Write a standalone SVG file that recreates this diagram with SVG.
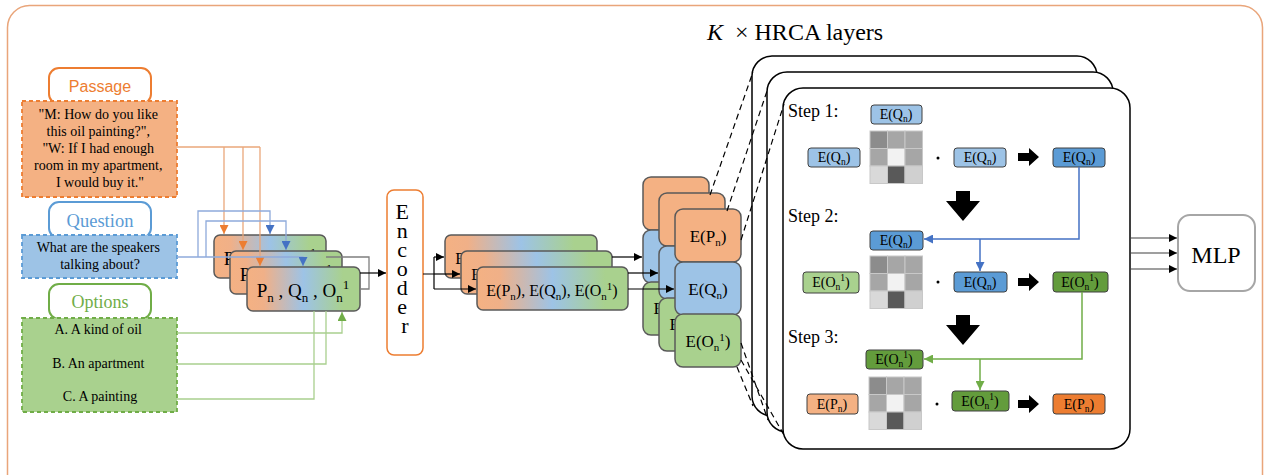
<svg xmlns="http://www.w3.org/2000/svg" width="1268" height="475" viewBox="0 0 1268 475">
<defs>
<style>
.serif{font-family:"Liberation Serif","Times New Roman",serif;fill:#000}
.sans{font-family:"Liberation Sans",Arial,sans-serif}
.tile{stroke:#595959;stroke-width:1.5}
.card{fill:url(#grad);stroke:#595959;stroke-width:1.5}
.sbox{stroke:#404040;stroke-width:1}
.frame{fill:#fff;stroke:#000;stroke-width:1.5}
.dash{fill:none;stroke:#000;stroke-width:1.2;stroke-dasharray:6 4}
.lor{fill:none;stroke:#eaa77a;stroke-width:1.3}
.lbl{fill:none;stroke:#8eaadb;stroke-width:1.3}
.lgr{fill:none;stroke:#a9cf8e;stroke-width:1.3}
.lgy{fill:none;stroke:#7f7f7f;stroke-width:1.3}
.lbk{fill:none;stroke:#000;stroke-width:1.2}
.cell{stroke:#c8c8c8;stroke-width:1}
.or{fill:#f4b183}.bl{fill:#9dc3e6}.gr{fill:#a9d18e}
.dbl{fill:#5b9bd5}.dgr{fill:#639c3c}.dor{fill:#ed7d31}
</style>
<linearGradient id="grad" x1="0" y1="0" x2="1" y2="0">
<stop offset="0" stop-color="#f4b183"/>
<stop offset="0.15" stop-color="#f0b088"/>
<stop offset="0.5" stop-color="#9dc3e6"/>
<stop offset="0.85" stop-color="#a9d18e"/>
<stop offset="1" stop-color="#a9d18e"/>
</linearGradient>
<marker id="mOr" viewBox="0 0 10 10" refX="10" refY="5" markerWidth="9" markerHeight="9" markerUnits="userSpaceOnUse" orient="auto"><path d="M0,0L10,5L0,10z" fill="#ed7d31"/></marker>
<marker id="mBl" viewBox="0 0 10 10" refX="10" refY="5" markerWidth="9" markerHeight="9" markerUnits="userSpaceOnUse" orient="auto"><path d="M0,0L10,5L0,10z" fill="#4472c4"/></marker>
<marker id="mGr" viewBox="0 0 10 10" refX="10" refY="5" markerWidth="9" markerHeight="9" markerUnits="userSpaceOnUse" orient="auto"><path d="M0,0L10,5L0,10z" fill="#70ad47"/></marker>
<marker id="mBk" viewBox="0 0 10 10" refX="10" refY="5" markerWidth="9" markerHeight="8" markerUnits="userSpaceOnUse" orient="auto"><path d="M0,0L10,5L0,10z" fill="#000"/></marker>
<g id="matrix">
<rect class="cell" x="0" y="0" width="17.5" height="17.5" fill="#8c8c8c"/>
<rect class="cell" x="17.5" y="0" width="17.5" height="17.5" fill="#a6a6a6"/>
<rect class="cell" x="35" y="0" width="17.5" height="17.5" fill="#a6a6a6"/>
<rect class="cell" x="0" y="17.5" width="17.5" height="17.5" fill="#a6a6a6"/>
<rect class="cell" x="17.5" y="17.5" width="17.5" height="17.5" fill="#f2f2f2"/>
<rect class="cell" x="35" y="17.5" width="17.5" height="17.5" fill="#a6a6a6"/>
<rect class="cell" x="0" y="35" width="17.5" height="17.5" fill="#d9d9d9"/>
<rect class="cell" x="17.5" y="35" width="17.5" height="17.5" fill="#595959"/>
<rect class="cell" x="35" y="35" width="17.5" height="17.5" fill="#d0d0d0"/>
</g>
<path id="rarrow" d="M0,-4H11V-9L21,0L11,9V4H0z" fill="#000"/>
<path id="darrow" d="M-7,0H7V10H17L0,30L-17,10H-7z" fill="#000"/>
</defs>

<rect x="7.5" y="5.5" width="1255" height="500" rx="22" fill="#fff" stroke="#e9a57a" stroke-width="1.5"/>

<!-- left inputs -->
<g id="passage-label">
<rect x="49" y="68" width="102" height="36" rx="10" fill="#fff" stroke="#ed7d31" stroke-width="2"/>
<text class="sans" x="100" y="92" font-size="16" text-anchor="middle" fill="#ed7d31">Passage</text>
</g>
<g id="passage">
<rect x="22" y="101" width="155" height="96" fill="#f4b183" stroke="#ed7d31" stroke-width="1.8" stroke-dasharray="4 3"/>
<text class="serif" font-size="14" text-anchor="middle">
<tspan x="100" y="119">"M: How do you like</tspan>
<tspan x="100" y="136">this oil painting?",</tspan>
<tspan x="100" y="153">"W: If I had enough</tspan>
<tspan x="100" y="170">room in my apartment,</tspan>
<tspan x="100" y="187">I would buy it."</tspan>
</text>
</g>
<g id="question-label">
<rect x="49" y="202" width="102" height="36" rx="10" fill="#fff" stroke="#5b9bd5" stroke-width="2"/>
<text class="serif" x="100" y="227" font-size="18.5" text-anchor="middle" style="fill:#5b9bd5">Question</text>
</g>
<g id="question">
<rect x="22" y="235" width="155" height="43" fill="#9dc3e6" stroke="#5b9bd5" stroke-width="1.8" stroke-dasharray="4 3"/>
<text class="serif" font-size="14" text-anchor="middle">
<tspan x="100" y="252">What are the speakers</tspan>
<tspan x="100" y="269">talking about?</tspan>
</text>
</g>
<g id="options-label">
<rect x="49" y="284" width="102" height="35" rx="10" fill="#fff" stroke="#70ad47" stroke-width="2"/>
<text class="serif" x="100" y="308" font-size="18" text-anchor="middle" style="fill:#70ad47">Options</text>
</g>
<g id="options">
<rect x="22" y="318" width="155" height="94" fill="#a9d18e" stroke="#70ad47" stroke-width="1.8" stroke-dasharray="4 3"/>
<text class="serif" font-size="14" text-anchor="middle">
<tspan x="100" y="334">A. A kind of oil</tspan>
<tspan x="100" y="368">B. An apartment</tspan>
<tspan x="100" y="401">C. A painting</tspan>
</text>
</g>

<!-- input cards -->
<g id="card1">
<rect class="card" x="214" y="235" width="112" height="43" rx="6"/>
<text class="serif" x="270" y="265" font-size="19" text-anchor="middle">P<tspan font-size="13" dy="5">n</tspan><tspan dy="-5"> , Q</tspan><tspan font-size="13" dy="5">n</tspan><tspan dy="-5"> , O</tspan><tspan font-size="13" dy="5">n</tspan><tspan font-size="13" dy="-13">1</tspan></text>
</g>
<g id="card2">
<rect class="card" x="230" y="251" width="112" height="43" rx="6"/>
<text class="serif" x="286" y="281" font-size="19" text-anchor="middle">P<tspan font-size="13" dy="5">n</tspan><tspan dy="-5"> , Q</tspan><tspan font-size="13" dy="5">n</tspan><tspan dy="-5"> , O</tspan><tspan font-size="13" dy="5">n</tspan><tspan font-size="13" dy="-13">1</tspan></text>
</g>
<g id="card3">
<rect class="card" x="247" y="267" width="113" height="44" rx="6"/>
<text class="serif" x="303" y="297" font-size="19" text-anchor="middle">P<tspan font-size="13" dy="5">n</tspan><tspan dy="-5"> , Q</tspan><tspan font-size="13" dy="5">n</tspan><tspan dy="-5"> , O</tspan><tspan font-size="13" dy="5">n</tspan><tspan font-size="13" dy="-13">1</tspan></text>
</g>

<!-- encoder -->
<g id="encoder">
<rect x="387" y="190" width="36" height="165" rx="7" fill="#fff" stroke="#ed7d31" stroke-width="1.5"/>
<text class="serif" font-size="22" text-anchor="middle">
<tspan x="405" y="219">E</tspan>
<tspan x="405" y="238">n</tspan>
<tspan x="405" y="257">c</tspan>
<tspan x="405" y="276">o</tspan>
<tspan x="405" y="295">d</tspan>
<tspan x="405" y="314">e</tspan>
<tspan x="405" y="333">r</tspan>
</text>
</g>

<!-- encoded cards -->
<g id="ecard1">
<rect class="card" x="445" y="235" width="152" height="43" rx="6"/>
<text class="serif" x="521" y="264" font-size="16" text-anchor="middle">E(P<tspan font-size="11" dy="4">n</tspan><tspan dy="-4">), E(Q</tspan><tspan font-size="11" dy="4">n</tspan><tspan dy="-4">), E(O</tspan><tspan font-size="11" dy="4">n</tspan><tspan font-size="11" dy="-10">1</tspan><tspan dy="6">)</tspan></text>
</g>
<g id="ecard2">
<rect class="card" x="461" y="251" width="151" height="43" rx="6"/>
<text class="serif" x="537" y="280" font-size="16" text-anchor="middle">E(P<tspan font-size="11" dy="4">n</tspan><tspan dy="-4">), E(Q</tspan><tspan font-size="11" dy="4">n</tspan><tspan dy="-4">), E(O</tspan><tspan font-size="11" dy="4">n</tspan><tspan font-size="11" dy="-10">1</tspan><tspan dy="6">)</tspan></text>
</g>
<g id="ecard3">
<rect class="card" x="477" y="267" width="151" height="43" rx="6"/>
<text class="serif" x="552" y="296" font-size="16" text-anchor="middle">E(P<tspan font-size="11" dy="4">n</tspan><tspan dy="-4">), E(Q</tspan><tspan font-size="11" dy="4">n</tspan><tspan dy="-4">), E(O</tspan><tspan font-size="11" dy="4">n</tspan><tspan font-size="11" dy="-10">1</tspan><tspan dy="6">)</tspan></text>
</g>

<!-- split tiles -->
<g id="tiles1">
<rect class="tile or" x="643" y="177" width="66" height="53" rx="8"/>
<rect class="tile bl" x="643" y="230" width="66" height="53" rx="8"/>
<rect class="tile gr" x="643" y="282" width="66" height="53" rx="8"/>
<text class="serif" x="676" y="314" font-size="17" text-anchor="middle">E(O<tspan font-size="11" dy="4">n</tspan><tspan font-size="11" dy="-10">1</tspan><tspan dy="6">)</tspan></text>
</g>
<g id="tiles2">
<rect class="tile or" x="659" y="193" width="66" height="53" rx="8"/>
<rect class="tile bl" x="659" y="246" width="66" height="53" rx="8"/>
<rect class="tile gr" x="659" y="298" width="66" height="53" rx="8"/>
<text class="serif" x="692" y="330" font-size="17" text-anchor="middle">E(O<tspan font-size="11" dy="4">n</tspan><tspan font-size="11" dy="-10">1</tspan><tspan dy="6">)</tspan></text>
</g>
<g id="tiles3">
<rect class="tile or" x="675" y="209" width="66" height="53" rx="8"/>
<rect class="tile bl" x="675" y="262" width="66" height="53" rx="8"/>
<rect class="tile gr" x="675" y="314" width="66" height="53" rx="8"/>
<text class="serif" x="708" y="242" font-size="17" text-anchor="middle">E(P<tspan font-size="11" dy="4">n</tspan><tspan dy="-4">)</tspan></text>
<text class="serif" x="708" y="295" font-size="17" text-anchor="middle">E(Q<tspan font-size="11" dy="4">n</tspan><tspan dy="-4">)</tspan></text>
<text class="serif" x="708" y="347" font-size="17" text-anchor="middle">E(O<tspan font-size="11" dy="4">n</tspan><tspan font-size="11" dy="-10">1</tspan><tspan dy="6">)</tspan></text>
</g>

<!-- title -->
<g id="title">
<text class="serif" x="707" y="40" font-size="24" font-style="italic">K</text>
<text class="serif" x="735" y="40" font-size="24">× HRCA layers</text>
</g>

<!-- HRCA frames -->
<g id="frames">
<rect class="frame" x="752" y="56" width="345" height="360" rx="20"/>
<rect class="frame" x="767" y="72" width="346" height="360" rx="20"/>
<rect class="frame" x="783" y="88" width="347" height="361" rx="20"/>
</g>

<!-- step 1 -->
<g id="step1">
<text class="serif" x="788" y="117" font-size="18">Step 1:</text>
<rect class="sbox bl" x="871" y="105" width="51" height="19" rx="3"/>
<text class="serif" x="896" y="119" font-size="14" text-anchor="middle">E(Q<tspan font-size="9.5" dy="3">n</tspan><tspan dy="-3">)</tspan></text>
<rect class="sbox bl" x="808" y="148" width="52" height="19" rx="3"/>
<text class="serif" x="834" y="162" font-size="14" text-anchor="middle">E(Q<tspan font-size="9.5" dy="3">n</tspan><tspan dy="-3">)</tspan></text>
<use href="#matrix" x="870" y="131"/>
<circle cx="938" cy="158" r="1.5" fill="#000"/>
<rect class="sbox bl" x="954" y="148" width="52" height="19" rx="3"/>
<text class="serif" x="980" y="162" font-size="14" text-anchor="middle">E(Q<tspan font-size="9.5" dy="3">n</tspan><tspan dy="-3">)</tspan></text>
<use href="#rarrow" x="1018" y="157"/>
<rect class="sbox dbl" x="1053" y="148" width="52" height="19" rx="3"/>
<text class="serif" x="1079" y="162" font-size="14" text-anchor="middle">E(Q<tspan font-size="9.5" dy="3">n</tspan><tspan dy="-3">)</tspan></text>
</g>
<use href="#darrow" x="963" y="191"/>

<!-- step 2 -->
<g id="step2">
<text class="serif" x="788" y="222" font-size="18">Step 2:</text>
<rect class="sbox dbl" x="870" y="231" width="53" height="19" rx="3"/>
<text class="serif" x="896" y="245" font-size="14" text-anchor="middle">E(Q<tspan font-size="9.5" dy="3">n</tspan><tspan dy="-3">)</tspan></text>
<rect class="sbox gr" x="803" y="272" width="56" height="21" rx="3"/>
<text class="serif" x="831" y="287" font-size="14" text-anchor="middle">E(O<tspan font-size="9.5" dy="3">n</tspan><tspan font-size="9.5" dy="-9">1</tspan><tspan dy="6">)</tspan></text>
<use href="#matrix" x="870" y="256"/>
<circle cx="938" cy="282" r="1.5" fill="#000"/>
<rect class="sbox dbl" x="954" y="272" width="53" height="20" rx="3"/>
<text class="serif" x="980" y="287" font-size="14" text-anchor="middle">E(Q<tspan font-size="9.5" dy="3">n</tspan><tspan dy="-3">)</tspan></text>
<use href="#rarrow" x="1018" y="282"/>
<rect class="sbox dgr" x="1053" y="272" width="55" height="20" rx="3"/>
<text class="serif" x="1080" y="287" font-size="14" text-anchor="middle">E(O<tspan font-size="9.5" dy="3">n</tspan><tspan font-size="9.5" dy="-9">1</tspan><tspan dy="6">)</tspan></text>
</g>
<use href="#darrow" x="963" y="315"/>

<!-- step 3 -->
<g id="step3">
<text class="serif" x="788" y="343" font-size="18">Step 3:</text>
<rect class="sbox dgr" x="866" y="350" width="57" height="19" rx="3"/>
<text class="serif" x="894" y="364" font-size="14" text-anchor="middle">E(O<tspan font-size="9.5" dy="3">n</tspan><tspan font-size="9.5" dy="-9">1</tspan><tspan dy="6">)</tspan></text>
<rect class="sbox or" x="807" y="394" width="51" height="20" rx="3"/>
<text class="serif" x="832" y="409" font-size="14" text-anchor="middle">E(P<tspan font-size="9.5" dy="3">n</tspan><tspan dy="-3">)</tspan></text>
<use href="#matrix" x="869" y="377"/>
<circle cx="937" cy="404" r="1.5" fill="#000"/>
<rect class="sbox dgr" x="952" y="391" width="57" height="20" rx="3"/>
<text class="serif" x="980" y="406" font-size="14" text-anchor="middle">E(O<tspan font-size="9.5" dy="3">n</tspan><tspan font-size="9.5" dy="-9">1</tspan><tspan dy="6">)</tspan></text>
<use href="#rarrow" x="1018" y="404"/>
<rect class="sbox dor" x="1053" y="394" width="52" height="20" rx="3"/>
<text class="serif" x="1079" y="409" font-size="14" text-anchor="middle">E(P<tspan font-size="9.5" dy="3">n</tspan><tspan dy="-3">)</tspan></text>
</g>

<!-- MLP -->
<g id="mlp">
<rect x="1178" y="215" width="77" height="76" rx="12" fill="#fff" stroke="#a6a6a6" stroke-width="2"/>
<text class="serif" x="1216" y="263" font-size="24" text-anchor="middle">MLP</text>
</g>

<!-- connectors -->
<g id="connectors">
<path class="lor" d="M177,147H260"/>
<path class="lor" d="M224,147V234" marker-end="url(#mOr)"/>
<path class="lor" d="M243,147V250" marker-end="url(#mOr)"/>
<path class="lor" d="M260,147V266" marker-end="url(#mOr)"/>
<path class="lbl" d="M198,257V211H270V234" marker-end="url(#mBl)"/>
<path class="lbl" d="M206,257V221H286V250" marker-end="url(#mBl)"/>
<path class="lbl" d="M177,257H303V266" marker-end="url(#mBl)"/>
<path class="lgr" d="M177,333H342V312" marker-end="url(#mGr)"/>
<path class="lgr" d="M177,364H326V311"/>
<path class="lgr" d="M177,399H314V311"/>
<path class="lgy" d="M326,257H369V289H360"/>
<path class="lbk" d="M360,273H386" marker-end="url(#mBk)"/>
<path class="lbk" d="M423,274H434M434,257V289"/>
<path class="lbk" d="M434,257H444" marker-end="url(#mBk)"/>
<path class="lbk" d="M434,274H460" marker-end="url(#mBk)"/>
<path class="lbk" d="M434,289H476" marker-end="url(#mBk)"/>
<path class="lbk" d="M612,257H642" marker-end="url(#mBk)"/>
<path class="lbk" d="M628,273H658" marker-end="url(#mBk)"/>
<path class="lbk" d="M628,289H674" marker-end="url(#mBk)"/>
<path class="dash" d="M710,195L753,72"/>
<path class="dash" d="M727,211L768,88"/>
<path class="dash" d="M741,240L784,104"/>
<path class="dash" d="M737,367L753,406"/>
<path class="dash" d="M741,343L768,420"/>
<path class="dash" d="M741,360L784,435"/>
<path fill="none" stroke="#4472c4" stroke-width="1.5" d="M1079,167V239H924" marker-end="url(#mBl)"/>
<path fill="none" stroke="#4472c4" stroke-width="1.5" d="M980,239V271" marker-end="url(#mBl)"/>
<path fill="none" stroke="#70ad47" stroke-width="1.5" d="M1082,292V359H924" marker-end="url(#mGr)"/>
<path fill="none" stroke="#70ad47" stroke-width="1.5" d="M980,359V390" marker-end="url(#mGr)"/>
<path class="lbk" style="stroke:#404040" d="M1130,238H1177" marker-end="url(#mBk)"/>
<path class="lbk" style="stroke:#404040" d="M1130,253H1177" marker-end="url(#mBk)"/>
<path class="lbk" style="stroke:#404040" d="M1130,269H1177" marker-end="url(#mBk)"/>
</g>
</svg>
